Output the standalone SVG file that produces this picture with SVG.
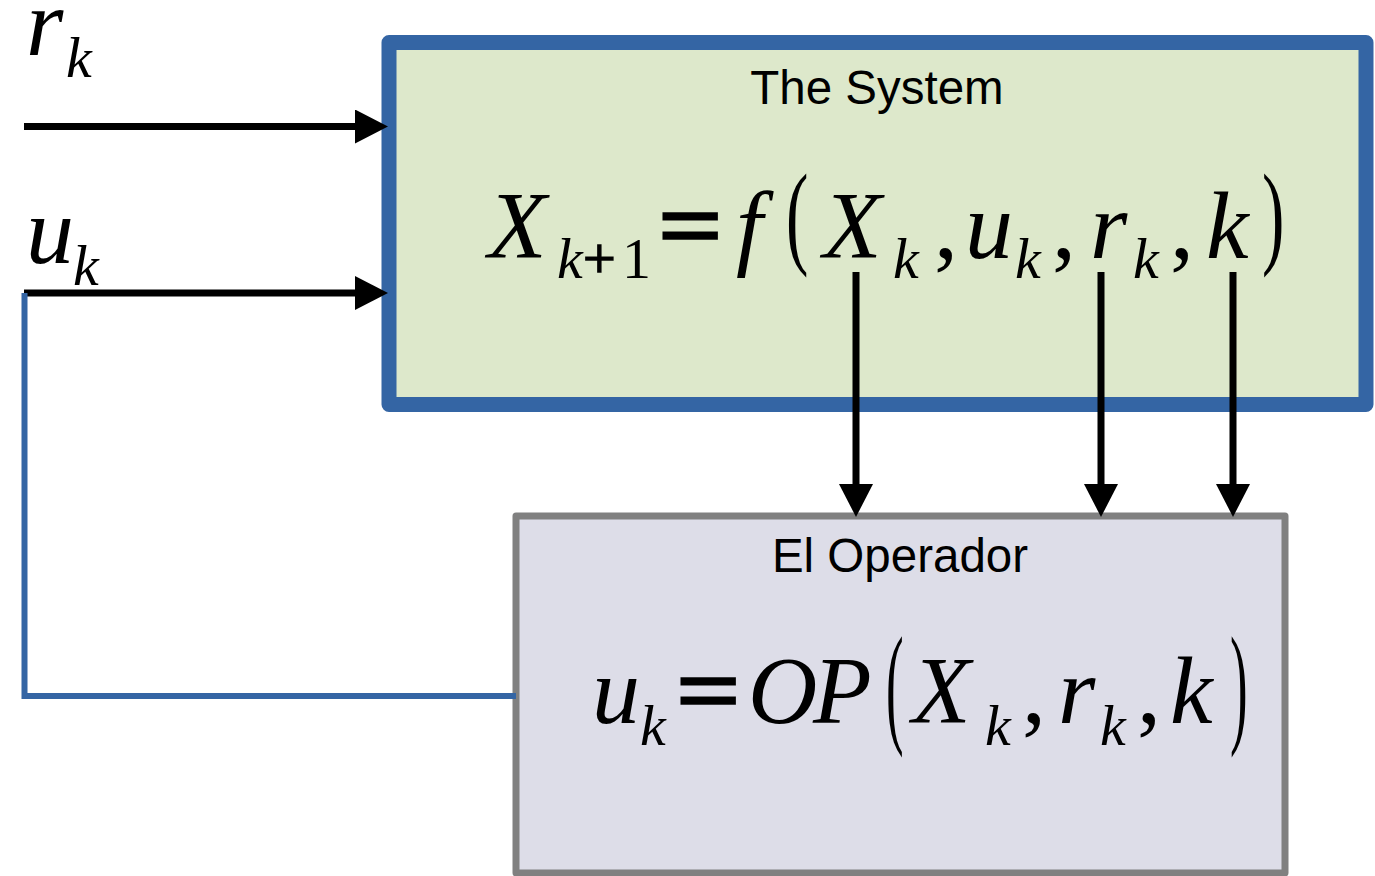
<svg xmlns="http://www.w3.org/2000/svg" width="1375" height="876" viewBox="0 0 1375 876">
<style>
.m{font-family:"Liberation Serif","Times New Roman",serif;font-style:italic;fill:#000}
.u{font-family:"Liberation Serif","Times New Roman",serif;font-style:normal;fill:#000}
.big{font-size:96px}
.sub{font-size:58px}
.eq{stroke:#000;stroke-width:3.5}
.title{font-family:"Liberation Sans",Arial,sans-serif;font-size:47.5px;fill:#000;text-anchor:middle}
.conn{stroke:#000;stroke-width:7;fill:none}
</style>
<defs>
<marker id="ah" markerUnits="userSpaceOnUse" markerWidth="34" markerHeight="34" refX="0" refY="17" orient="auto" viewBox="0 0 34 34">
<path d="M0,0 L33,17 L0,34 z" fill="#000"/>
</marker>
</defs>
<rect width="1375" height="876" fill="#fff"/>

<g id="system">
<rect x="389" y="42.5" width="977" height="362" fill="#dde8cb" stroke="#3465a4" stroke-width="15" stroke-linejoin="round"/>
<text class="title" x="877" y="104">The System</text>
<text class="m big" x="488" y="258">X</text>
<text class="m sub" x="557" y="278">k</text>
<text class="u sub" x="583" y="278" stroke="#000" stroke-width="1.5">+</text>
<text class="u sub" x="622" y="278">1</text>
<text class="u big eq" transform="translate(659,258) scale(1.15,1)" x="0" y="0">=</text>
<text class="m big" x="736" y="258">f</text>
<text class="u big" transform="translate(786,253) scale(0.7,1.2)" x="0" y="0">(</text>
<text class="m big" x="823" y="258">X</text>
<text class="m sub" x="893" y="278">k</text>
<text class="u big" x="934" y="258">,</text>
<text class="m big" x="965" y="258">u</text>
<text class="m sub" x="1015" y="278">k</text>
<text class="u big" x="1052" y="258">,</text>
<text class="m big" x="1090" y="258">r</text>
<text class="m sub" x="1133" y="278">k</text>
<text class="u big" x="1170" y="258">,</text>
<text class="m big" x="1206" y="258">k</text>
<text class="u big" transform="translate(1262,253) scale(0.7,1.2)" x="0" y="0">)</text>
</g>

<g id="operador">
<rect x="516" y="516" width="769" height="357" fill="#dddde8" stroke="#808080" stroke-width="7" stroke-linejoin="round"/>
<text class="title" x="900" y="572">El Operador</text>
<text class="m big" x="592" y="723">u</text>
<text class="m sub" x="640" y="745">k</text>
<text class="u big eq" transform="translate(677,723) scale(1.15,1)" x="0" y="0">=</text>
<text class="m big" x="748" y="723">O</text>
<text class="m big" x="813" y="723">P</text>
<text class="u big" transform="translate(886,729) scale(0.55,1.39)" x="0" y="0">(</text>
<text class="m big" x="912" y="723">X</text>
<text class="m sub" x="985" y="745">k</text>
<text class="u big" x="1022" y="723">,</text>
<text class="m big" x="1058" y="723">r</text>
<text class="m sub" x="1100" y="745">k</text>
<text class="u big" x="1137" y="723">,</text>
<text class="m big" x="1170" y="723">k</text>
<text class="u big" transform="translate(1230,729) scale(0.55,1.39)" x="0" y="0">)</text>
</g>

<g id="label-r">
<text class="m big" x="26" y="55">r</text>
<text class="m sub" x="66" y="77">k</text>
</g>
<g id="label-u">
<text class="m big" x="26" y="263">u</text>
<text class="m sub" x="73" y="285">k</text>
</g>

<g id="connectors">
<line class="conn" x1="24" y1="126.5" x2="355" y2="126.5" marker-end="url(#ah)"/>
<line class="conn" x1="24" y1="293" x2="355" y2="293" marker-end="url(#ah)"/>
<line class="conn" x1="856" y1="272" x2="856" y2="484" marker-end="url(#ah)"/>
<line class="conn" x1="1101" y1="272" x2="1101" y2="484" marker-end="url(#ah)"/>
<line class="conn" x1="1233" y1="272" x2="1233" y2="484" marker-end="url(#ah)"/>
<polyline points="24.5,293 24.5,696 516,696" fill="none" stroke="#3465a4" stroke-width="6"/>
</g>
</svg>
